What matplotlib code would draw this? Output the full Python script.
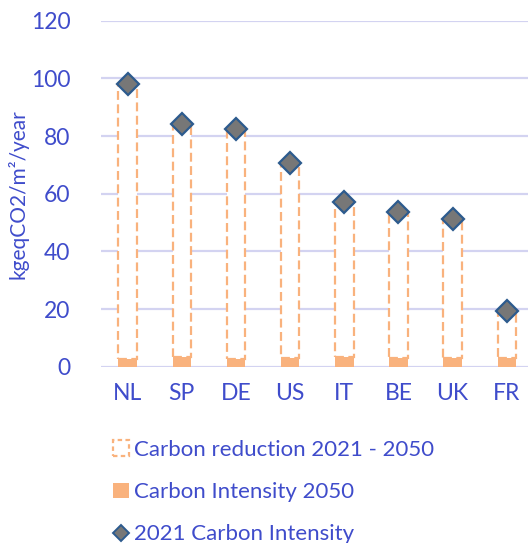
import matplotlib
matplotlib.use("Agg")
import matplotlib.pyplot as plt
from matplotlib.patches import Patch
from matplotlib.lines import Line2D

countries = ["NL", "SP", "DE", "US", "IT", "BE", "UK", "FR"]
intensity_2021 = [98.0, 84.3, 82.6, 70.5, 57.2, 53.5, 51.3, 19.2]
intensity_2050 = [2.8, 3.2, 2.8, 3.0, 3.2, 3.0, 3.0, 3.0]
y_ticks = [0, 20, 40, 60, 80, 100, 120]

TEXT = "#3f4ccb"
ORANGE = "#f9b27d"
GRID = "#d3d3f1"

plt.rcParams["font.family"] = ["Lato", "DejaVu Sans"]

fig = plt.figure(figsize=(5.28, 5.43), dpi=100)
ax = fig.add_axes([101 / 528, 176.3 / 543, 427 / 528, 346 / 543])

x = list(range(len(countries)))
reduction = [a - b for a, b in zip(intensity_2021, intensity_2050)]

ax.bar(x, intensity_2050, width=0.34, color=ORANGE, zorder=3)
ax.bar(x, reduction, bottom=intensity_2050, width=0.34, facecolor="white",
       edgecolor=ORANGE, linestyle=(0, (4, 2)), linewidth=1.6, zorder=2)
ax.plot(x, intensity_2021, linestyle="none", marker="D", markersize=11,
        markerfacecolor="#777777", markeredgecolor="#2d5b8e",
        markeredgewidth=1.6, zorder=4)

ax.set_xlim(-0.49, 7.39)
ax.set_ylim(0, 120)
ax.set_yticks(y_ticks)
ax.set_xticks(x)
ax.set_xticklabels(countries)
ax.grid(axis="y", color=GRID, linewidth=1.6, zorder=1)
ax.set_axisbelow(True)
for s in ax.spines.values():
    s.set_visible(False)
ax.tick_params(length=0, labelsize=16.5, labelcolor=TEXT)
ax.tick_params(axis="y", pad=22)
ax.tick_params(axis="x", pad=12)
ax.set_ylabel("kgeqCO2/m²/year", fontsize=15, color=TEXT, labelpad=2)

handles = [
    Patch(facecolor="white", edgecolor=ORANGE, linestyle=(0, (2, 1.5)), linewidth=1.6),
    Patch(facecolor=ORANGE, edgecolor="none"),
    Line2D([], [], linestyle="none", marker="D", markersize=8,
           markerfacecolor="#777777", markeredgecolor="#2d5b8e", markeredgewidth=1.4),
]
labels = ["Carbon reduction 2021 - 2050", "Carbon Intensity 2050", "2021 Carbon Intensity"]
leg = fig.legend(handles, labels, loc="upper left", bbox_to_anchor=(113 / 528, 1 - 440 / 543),
                 frameon=False, fontsize=16, handlelength=0.7, handleheight=0.7,
                 handletextpad=0.25, labelspacing=1.0, borderpad=0, borderaxespad=0)
for t in leg.get_texts():
    t.set_color(TEXT)

fig.savefig("out.png", dpi=100)
